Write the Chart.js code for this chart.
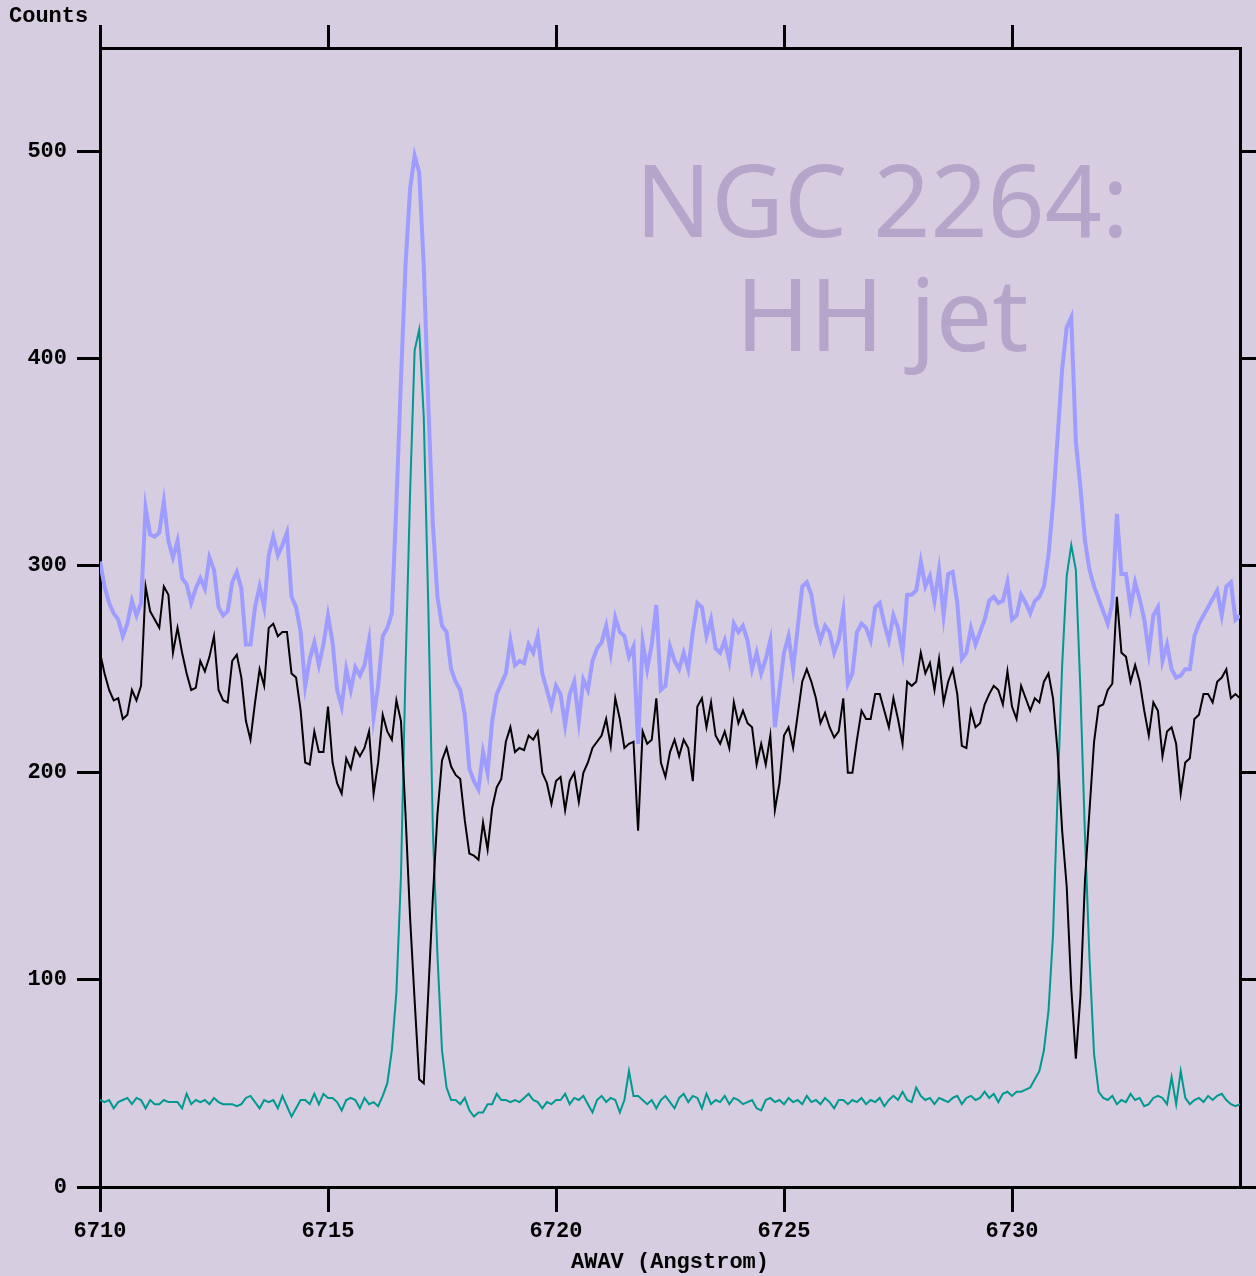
<!DOCTYPE html>
<html>
<head>
<meta charset="utf-8">
<script src="https://cdn.jsdelivr.net/npm/chart.js@4.4.1/dist/chart.umd.min.js"></script>
<style>
  html, body { margin: 0; padding: 0; background: #d6cde0; }
  #wrap { width: 1256px; height: 1276px; }
</style>
</head>
<body>
<div id="wrap"><canvas id="spec"></canvas></div>
<script>
// wavelength grid (Angstrom), 0.1 A sampling
const wavelength = [
  6710.0,6710.1,6710.2,6710.3,6710.4,6710.5,6710.6,6710.7,6710.8,6710.9,
  6711.0,6711.1,6711.2,6711.3,6711.4,6711.5,6711.6,6711.7,6711.8,6711.9,
  6712.0,6712.1,6712.2,6712.3,6712.4,6712.5,6712.6,6712.7,6712.8,6712.9,
  6713.0,6713.1,6713.2,6713.3,6713.4,6713.5,6713.6,6713.7,6713.8,6713.9,
  6714.0,6714.1,6714.2,6714.3,6714.4,6714.5,6714.6,6714.7,6714.8,6714.9,
  6715.0,6715.1,6715.2,6715.3,6715.4,6715.5,6715.6,6715.7,6715.8,6715.9,
  6716.0,6716.1,6716.2,6716.3,6716.4,6716.5,6716.6,6716.7,6716.8,6716.9,
  6717.0,6717.1,6717.2,6717.3,6717.4,6717.5,6717.6,6717.7,6717.8,6717.9,
  6718.0,6718.1,6718.2,6718.3,6718.4,6718.5,6718.6,6718.7,6718.8,6718.9,
  6719.0,6719.1,6719.2,6719.3,6719.4,6719.5,6719.6,6719.7,6719.8,6719.9,
  6720.0,6720.1,6720.2,6720.3,6720.4,6720.5,6720.6,6720.7,6720.8,6720.9,
  6721.0,6721.1,6721.2,6721.3,6721.4,6721.5,6721.6,6721.7,6721.8,6721.9,
  6722.0,6722.1,6722.2,6722.3,6722.4,6722.5,6722.6,6722.7,6722.8,6722.9,
  6723.0,6723.1,6723.2,6723.3,6723.4,6723.5,6723.6,6723.7,6723.8,6723.9,
  6724.0,6724.1,6724.2,6724.3,6724.4,6724.5,6724.6,6724.7,6724.8,6724.9,
  6725.0,6725.1,6725.2,6725.3,6725.4,6725.5,6725.6,6725.7,6725.8,6725.9,
  6726.0,6726.1,6726.2,6726.3,6726.4,6726.5,6726.6,6726.7,6726.8,6726.9,
  6727.0,6727.1,6727.2,6727.3,6727.4,6727.5,6727.6,6727.7,6727.8,6727.9,
  6728.0,6728.1,6728.2,6728.3,6728.4,6728.5,6728.6,6728.7,6728.8,6728.9,
  6729.0,6729.1,6729.2,6729.3,6729.4,6729.5,6729.6,6729.7,6729.8,6729.9,
  6730.0,6730.1,6730.2,6730.3,6730.4,6730.5,6730.6,6730.7,6730.8,6730.9,
  6731.0,6731.1,6731.2,6731.3,6731.4,6731.5,6731.6,6731.7,6731.8,6731.9,
  6732.0,6732.1,6732.2,6732.3,6732.4,6732.5,6732.6,6732.7,6732.8,6732.9,
  6733.0,6733.1,6733.2,6733.3,6733.4,6733.5,6733.6,6733.7,6733.8,6733.9,
  6734.0,6734.1,6734.2,6734.3,6734.4,6734.5,6734.6,6734.7,6734.8,6734.9,
  6735.0
];

// light purple spectrum
const countsPurple = [
  302,290,282,277,274,266,272,283,276,282,
  328,315,314,316,331,312,304,312,294,291,
  282,289,294,289,304,298,280,276,278,292,
  297,289,262,262,280,290,280,305,314,305,
  310,316,285,280,268,242,255,263,252,262,
  276,263,240,232,250,240,251,247,252,264,
  227,242,266,270,277,330,390,445,482,498,
  490,445,378,320,285,271,268,250,244,240,
  228,202,196,192,210,200,225,238,243,248,
  264,252,254,253,262,258,266,248,240,232,
  242,238,223,238,244,225,245,240,254,260,
  263,271,258,275,268,266,256,261,214,263,
  250,262,281,240,242,261,254,250,258,250,
  268,282,280,266,274,260,258,264,254,272,
  268,271,264,250,258,248,255,264,222,240,
  258,266,250,270,290,292,286,272,264,271,
  268,258,264,278,243,248,268,272,270,264,
  280,282,272,264,276,270,258,286,286,288,
  302,290,295,283,298,276,296,297,282,255,
  258,270,262,268,274,283,285,282,283,292,
  274,276,286,282,277,283,285,290,305,330,
  362,395,415,420,360,338,312,298,290,284,
  278,272,282,325,296,296,280,292,284,274,
  258,276,280,254,262,250,246,247,250,250,
  266,272,276,280,284,288,276,290,292,274,
  276
];

// black spectrum
const countsBlack = [
  258,248,240,235,236,226,228,240,235,242,
  290,278,274,270,290,286,258,270,258,248,
  240,241,254,249,256,266,240,235,234,254,
  257,246,225,216,234,250,242,270,272,266,
  268,268,248,246,230,205,204,220,210,210,
  232,205,195,190,207,202,212,208,212,220,
  190,205,228,220,216,235,225,180,130,90,
  52,50,94,140,180,206,212,203,199,197,
  177,161,160,158,176,163,183,193,197,215,
  222,210,212,211,218,216,220,200,195,185,
  196,198,182,196,200,186,200,205,212,215,
  218,226,213,236,226,212,214,215,172,220,
  214,216,236,205,198,210,216,208,216,212,
  196,232,236,222,234,218,214,220,212,234,
  224,230,224,222,204,214,204,218,182,195,
  218,222,212,228,244,250,244,236,224,229,
  222,217,220,236,200,200,216,230,226,226,
  238,238,230,222,236,226,214,244,242,244,
  258,248,253,240,255,234,244,250,238,213,
  212,230,222,224,233,238,242,240,233,249,
  232,226,242,236,230,236,234,244,248,236,
  210,172,145,96,62,92,148,182,215,232,
  233,240,243,285,258,256,244,252,244,230,
  218,234,230,208,220,222,214,190,205,207,
  226,228,238,238,234,244,246,250,236,238,
  236
];

// teal spectrum
const countsTeal = [
  42,41,42,38,41,42,43,40,43,42,
  38,42,40,40,42,41,41,41,38,45,
  40,42,41,42,40,43,41,40,40,40,
  39,40,43,44,41,38,42,41,42,38,
  44,39,34,38,42,42,40,45,40,45,
  43,43,41,37,42,43,42,38,43,40,
  41,39,44,50,66,94,150,250,335,404,
  414,372,280,172,112,66,48,42,42,40,
  43,37,34,36,36,40,40,45,42,42,
  41,42,41,43,45,42,41,38,41,40,
  42,42,45,40,43,42,44,40,36,42,
  44,41,43,42,36,42,56,44,44,42,
  40,42,38,42,44,41,38,43,45,41,
  44,43,38,45,40,42,41,44,40,43,
  42,40,41,42,38,37,42,43,41,42,
  40,43,41,42,40,44,41,42,40,43,
  41,38,42,42,40,42,41,43,40,42,
  41,43,39,42,44,42,46,42,41,48,
  44,42,43,40,43,42,41,43,44,40,
  43,44,42,43,46,43,45,41,45,46,
  44,46,46,47,48,52,56,66,85,122,
  190,252,295,310,298,240,170,110,64,46,
  43,42,44,40,42,41,45,42,43,39,
  40,43,44,43,40,53,40,56,43,40,
  42,43,41,44,42,44,45,42,40,39,
  40
];

const xTicks = [6710, 6715, 6720, 6725, 6730];
const yTicks = [0, 100, 200, 300, 400, 500];

const toPoints = arr => arr.map((v, i) => ({ x: wavelength[i], y: v }));

const bgColor = '#d6cde0';
const monoFamily = '"Liberation Mono", "DejaVu Sans Mono", monospace';
const tickFont = { family: monoFamily, size: 22, weight: 'bold' };

const decor = {
  id: 'decor',
  beforeDraw(chart) {
    const c = chart.ctx;
    c.save();
    c.fillStyle = bgColor;
    c.fillRect(0, 0, chart.width, chart.height);
    c.restore();
  },
  beforeDatasetsDraw(chart) {
    const c = chart.ctx;
    c.save();
    c.fillStyle = '#b4a5ca';
    c.font = '100px "Noto Sans", "Open Sans", sans-serif';
    c.textAlign = 'center';
    c.textBaseline = 'alphabetic';
    c.fillText('NGC 2264:', 882, 237);
    c.fillText('HH jet', 882, 351);
    c.fillStyle = '#000';
    c.font = 'bold 22px ' + monoFamily;
    c.textAlign = 'left';
    c.textBaseline = 'middle';
    c.fillText('Counts', 9, 16);
    c.restore();
  }
};

const axisGrid = len => ({
  drawOnChartArea: false, drawTicks: true, tickLength: len,
  tickWidth: 3, lineWidth: 3, tickColor: '#000', color: '#000'
});
const axisBorder = { display: true, color: '#000', width: 3 };
const keepX = s => { s.ticks = s.ticks.filter(t => xTicks.includes(t.value)); };
const keepY = s => { s.ticks = s.ticks.filter(t => yTicks.includes(t.value)); };

new Chart(document.getElementById('spec'), {
  type: 'line',
  data: {
    datasets: [
      { label: 'black', data: toPoints(countsBlack), borderColor: '#000000', borderWidth: 2, order: 1 },
      { label: 'teal', data: toPoints(countsTeal), borderColor: '#00998f', borderWidth: 2, order: 2 },
      { label: 'purple', data: toPoints(countsPurple), borderColor: '#9f9cff', borderWidth: 4, order: 3 }
    ]
  },
  options: {
    responsive: true,
    maintainAspectRatio: false,
    animation: false,
    layout: { padding: 0 },
    elements: { point: { radius: 0 }, line: { tension: 0, fill: false } },
    plugins: { legend: { display: false }, tooltip: { enabled: false } },
    scales: {
      x: {
        type: 'linear', position: 'bottom', min: 6710, max: 6735,
        afterBuildTicks: keepX,
        afterFit: s => { s.height = 89; },
        ticks: { stepSize: 5, color: '#000', font: tickFont, padding: 6, maxRotation: 0,
                 callback: v => String(v) },
        grid: axisGrid(25),
        border: axisBorder,
        title: { display: true, text: 'AWAV (Angstrom)', color: '#000',
                 font: { family: monoFamily, size: 22, weight: 'bold' },
                 padding: { top: 0, bottom: 0 } }
      },
      x2: {
        type: 'linear', position: 'top', min: 6710, max: 6735,
        afterBuildTicks: keepX,
        afterFit: s => { s.height = 48; },
        ticks: { stepSize: 5, display: false },
        grid: axisGrid(23),
        border: axisBorder
      },
      y: {
        type: 'linear', position: 'left', min: 0, max: 550,
        afterBuildTicks: keepY,
        afterFit: s => { s.width = 100; },
        ticks: { stepSize: 100, color: '#000', font: tickFont, padding: 10 },
        grid: axisGrid(23),
        border: axisBorder
      },
      y2: {
        type: 'linear', position: 'right', min: 0, max: 550,
        afterBuildTicks: keepY,
        afterFit: s => { s.width = 16; },
        ticks: { stepSize: 100, display: false },
        grid: axisGrid(16),
        border: axisBorder
      }
    }
  },
  plugins: [decor]
});
</script>
</body>
</html>
